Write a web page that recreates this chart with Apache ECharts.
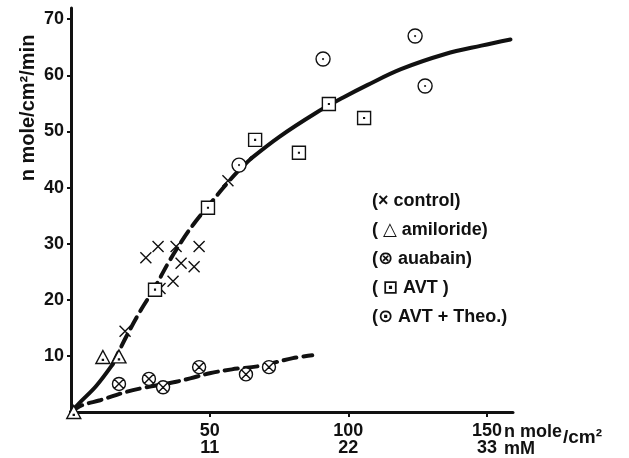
<!DOCTYPE html>
<html>
<head>
<meta charset="utf-8">
<script src="https://cdn.jsdelivr.net/npm/echarts@6/dist/echarts.min.js"></script>
<style>
  html, body { margin: 0; padding: 0; background: #fff; }
  #chart { width: 629px; height: 458px; }
</style>
</head>
<body>
<div id="chart"></div>
<script>
// data (x: n mole/cm2, y: n mole/cm2/min)
const controlPts = [[19.5, 14.4], [27, 27.5], [31.4, 29.5], [37.9, 29.5], [46.2, 29.5], [39.7, 26.5], [44.4, 25.9], [36.8, 23.3], [32.1, 22.0], [56.6, 41.2]];
const amiloridePts = [[1, 0], [11.5, 9.8], [17.3, 9.9]];
const ouabainPts = [[17.3, 5.0], [28.1, 5.9], [33.2, 4.4], [46.2, 8.0], [63.1, 6.7], [71.4, 8.0]];
const avtPts = [[30.3, 21.8], [49.4, 36.4], [66.4, 48.5], [82.2, 46.2], [93.0, 54.9], [105.7, 52.4]];
const theoPts = [[60.6, 44.0], [90.9, 62.9], [124.1, 67.0], [127.7, 58.1]];

// hand drawn fit lines
const upperStart = [[0, 0], [3, 1.6], [9, 4.6], [15, 8.5]];
const upperDashed = [[15, 8.5], [20, 13.5], [25, 18], [30, 22], [35, 26.5], [40, 30.5], [45, 34], [50, 37], [55, 40], [60, 42.8], [65, 45.2]];
const upperSolid = [[65, 45.2], [75, 49], [88, 53.2], [98, 56], [107, 58.3], [119, 61.1], [135, 63.8], [148, 65.3], [158.5, 66.4]];
const lowerDashed = [[0, 0], [4, 1.2], [10.5, 2.1], [20, 3.6], [26, 4.3], [37, 5.3], [43, 6], [50, 6.9], [58, 7.6], [68, 8.2], [80, 9.6], [87, 10.1]];

// tick labels
const xTicks = [50, 100, 150];
const mMTicks = [11, 22, 33];
const yTicks = [10, 20, 30, 40, 50, 60, 70];

const legendLines = ['(× control)', '( △ amiloride)', '(⊗ auabain)', '( ⊡ AVT )', '(⊙ AVT + Theo.)'];

const INK = '#111';
const FONT = '"Liberation Sans", Arial, "DejaVu Sans", sans-serif';

const symCross = 'path://M2,2L18,18M18,2L2,18';
const symTri = 'path://M10,1L19,18L1,18Z M9.4,12.6L10.6,12.6L10.6,13.8L9.4,13.8Z';
const symSquare = 'path://M1,1L19,1L19,19L1,19Z M9.5,9.5L10.5,9.5L10.5,10.5L9.5,10.5Z';
const symDotCircle = 'path://M1,10A9,9,0,1,1,19,10A9,9,0,1,1,1,10Z M9.5,10A0.5,0.5,0,1,1,10.5,10A0.5,0.5,0,1,1,9.5,10Z';
const symXCircle = 'path://M1,10A9,9,0,1,1,19,10A9,9,0,1,1,1,10Z M3.6,3.6L16.4,16.4M16.4,3.6L3.6,16.4';

function scatter(name, data, symbol, size, fill) {
  return {
    name: name,
    type: 'scatter',
    data: data,
    symbol: symbol,
    symbolSize: size,
    z: 5,
    itemStyle: { color: fill, borderColor: INK, borderWidth: 1.4, opacity: 1 }
  };
}

function curve(data, dashed) {
  return {
    type: 'line',
    data: data,
    smooth: 0.35,
    showSymbol: false,
    silent: true,
    z: 2,
    lineStyle: { color: INK, width: 4, type: dashed ? [13, 7] : 'solid', cap: 'round' }
  };
}

function label(text, x, y, size) {
  return {
    type: 'text', x: x, y: y,
    style: { text: text, fill: INK, fontFamily: FONT, fontSize: size, fontWeight: 'bold',
      align: 'left', verticalAlign: 'middle', textAlign: 'left', textVerticalAlign: 'middle' }
  };
}

const chart = echarts.init(document.getElementById('chart'));

chart.setOption({
  backgroundColor: '#fff',
  animation: false,
  grid: { left: 71, right: 116, top: 8, bottom: 46 },
  xAxis: {
    type: 'value',
    min: 0,
    max: 159.4,
    interval: 50,
    splitLine: { show: false },
    axisLine: { lineStyle: { color: INK, width: 3 } },
    axisTick: { customValues: xTicks, length: 5, lineStyle: { color: INK, width: 2 } },
    axisLabel: {
      customValues: xTicks,
      margin: 11,
      color: INK,
      fontFamily: FONT,
      fontSize: 18,
      lineHeight: 17,
      fontWeight: 'bold',
      formatter: function (v) {
        const i = xTicks.indexOf(v);
        return i < 0 ? '' : v + '\n' + mMTicks[i];
      }
    }
  },
  yAxis: {
    type: 'value',
    min: 0,
    max: 72,
    interval: 10,
    splitLine: { show: false },
    axisLine: { lineStyle: { color: INK, width: 3 } },
    axisTick: { customValues: yTicks, length: 4, lineStyle: { color: INK, width: 2 } },
    axisLabel: {
      customValues: yTicks,
      margin: 7,
      color: INK,
      fontFamily: FONT,
      fontSize: 18,
      fontWeight: 'bold'
    }
  },
  graphic: [
    {
      type: 'text', x: 28, y: 108, rotation: Math.PI / 2,
      style: { text: 'n mole/cm²/min', fill: INK, fontFamily: FONT, fontSize: 20, fontWeight: 'bold',
        align: 'center', verticalAlign: 'middle', textAlign: 'center', textVerticalAlign: 'middle' }
    },
    label('n mole', 504, 432, 18),
    label('/cm²', 563, 438, 19),
    label('mM', 504, 449, 18)
  ].concat(legendLines.map(function (t, i) {
    return label(t, 372, 201 + i * 29, 18);
  })),
  series: [
    curve(upperStart, false),
    curve(upperDashed, true),
    curve(upperSolid, false),
    curve(lowerDashed, true),
    scatter('control', controlPts, symCross, 11, 'none'),
    scatter('amiloride', amiloridePts, symTri, [14, 13], '#fff'),
    scatter('auabain', ouabainPts, symXCircle, 13, '#fff'),
    scatter('AVT', avtPts, symSquare, 13, '#fff'),
    scatter('AVT+Theo.', theoPts, symDotCircle, 14, '#fff')
  ]
});
</script>
</body>
</html>
